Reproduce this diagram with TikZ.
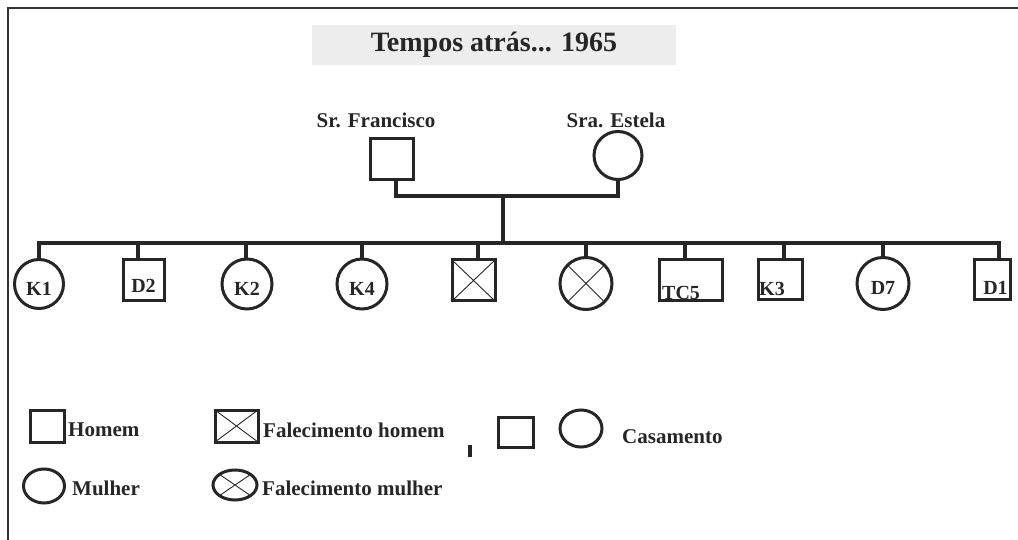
\documentclass[tikz,border=0pt]{standalone}
\usepackage{fontspec}
\setmainfont{Liberation Serif}
\usetikzlibrary{shapes.geometric, positioning, calc}

\tikzset{
  ink/.style={draw=black!85, line width=3pt, inner sep=0pt, text=black!85,
    font=\fontsize{20}{22}\selectfont\bfseries},
  man/.style={ink, rectangle, minimum width=41pt, minimum height=41pt, text height=25pt, text depth=0pt},
  woman/.style={ink, circle, minimum size=50pt, text height=22pt, text depth=0pt},
  oval/.style={ink, ellipse, minimum width=42pt, minimum height=34pt},
  dead/.style={path picture={
    \draw[line width=0.9pt, black!85]
      (path picture bounding box.north west) -- (path picture bounding box.south east)
      (path picture bounding box.south west) -- (path picture bounding box.north east);}},
  lbl/.style={font=\fontsize{21}{23}\selectfont\bfseries, text=black!85, inner sep=0pt},
  kid/.style={font=\fontsize{20}{22}\selectfont\bfseries, text=black!85, inner sep=0pt},
  link/.style={draw=black!85, line width=3.2pt, line cap=rect},
}

\begin{document}
\begin{tikzpicture}[x=1pt, y=-1pt]
\useasboundingbox (0,0) rectangle (1018,540);
% moldura
\draw[line width=1.8pt, black!80] (8,540) -- (8,8) -- (1018,8);

% titulo
\node[fill=black!7, minimum width=364pt, minimum height=40pt, inner sep=0pt,
  font=\fontsize{28}{30}\selectfont\bfseries, text=black!85] (titulo) at (494,45) {Tempos atrás... 1965};

% pais
\node[man, minimum width=43pt] (fran) at (391.5,159.5) {};
\node[woman, minimum size=48pt] (estela) at (618,155.5) {};
\node[lbl] (nfran) at (376,120) {Sr. Francisco};
\node[lbl] (nestela) at (616,120) {Sra. Estela};
\coordinate (casal) at (503,196);
\coordinate (irmaos) at (503,243);
\draw[link] ([xshift=4.5pt]fran.south) |- (casal) -| (estela.south);
\draw[link] (casal) -- (irmaos);

% filhos
\node[woman, minimum size=49pt] (k1) at (39,284) {K1};
\node[man] (d2) at (143.5,280.5) {D2};
\node[woman] (k2) at (247,284) {K2};
\node[woman] (k4) at (362,284) {K4};
\node[man, dead, minimum width=43pt] (xm) at (473.5,280.5) {};
\node[woman, dead, minimum size=52pt] (xf) at (586,283.5) {};
\node[man, minimum width=63pt] (tc5) at (690.5,280.5) {};
\node[kid, anchor=south west] (ntc5) at (662,300) {TC5};
\node[man, minimum width=44pt, minimum height=40pt] (k3) at (780,280) {};
\node[kid, anchor=west] (nk3) at (759,289) {K3};
\node[woman, minimum size=52pt] (d7) at (883,283.5) {D7};
\node[man, minimum width=36pt, minimum height=40pt] (d1) at (992,280) {};
\node[kid] (nd1) at (995.5,287.5) {D1};

\foreach \n/\dx in {k1/0, d2/-5.5, k2/-1, k4/0, xm/4.5, xf/0, tc5/-5.5, k3/4, d7/0, d1/7}{
  \coordinate (top-\n) at ($(\n.north)+(\dx,0)$);
  \draw[link] (top-\n) -- (top-\n |- irmaos);
}
\draw[link] (top-k1 |- irmaos) -- (top-d1 |- irmaos);

% legenda
\node[man, minimum width=34pt, minimum height=32pt] (lhomem) at (47,426) {};
\node[lbl, anchor=west] (thomem) at (68,430) {Homem};
\node[man, dead, minimum width=43pt, minimum height=32pt] (lfalh) at (236.5,426) {};
\node[lbl, anchor=west] (tfalh) at (263,430) {Falecimento homem};
\node[oval, minimum width=41pt, minimum height=34pt] (lmulher) at (44,486) {};
\node[lbl, anchor=west] (tmulher) at (72,488) {Mulher};
\node[oval, dead, minimum width=44pt, minimum height=30pt] (lfalm) at (235,485) {};
\node[lbl, anchor=west] (tfalm) at (262,488) {Falecimento mulher};
\draw[line width=3.2pt, black!85] (470,445) -- (470,457);
\node[man, minimum width=35pt, minimum height=30pt] (lcasal1) at (515.5,432) {};
\node[oval, minimum width=42pt, minimum height=37pt] (lcasal2) at (581,428.5) {};
\node[lbl, anchor=west] (tcasal) at (622,437) {Casamento};
\end{tikzpicture}
\end{document}
